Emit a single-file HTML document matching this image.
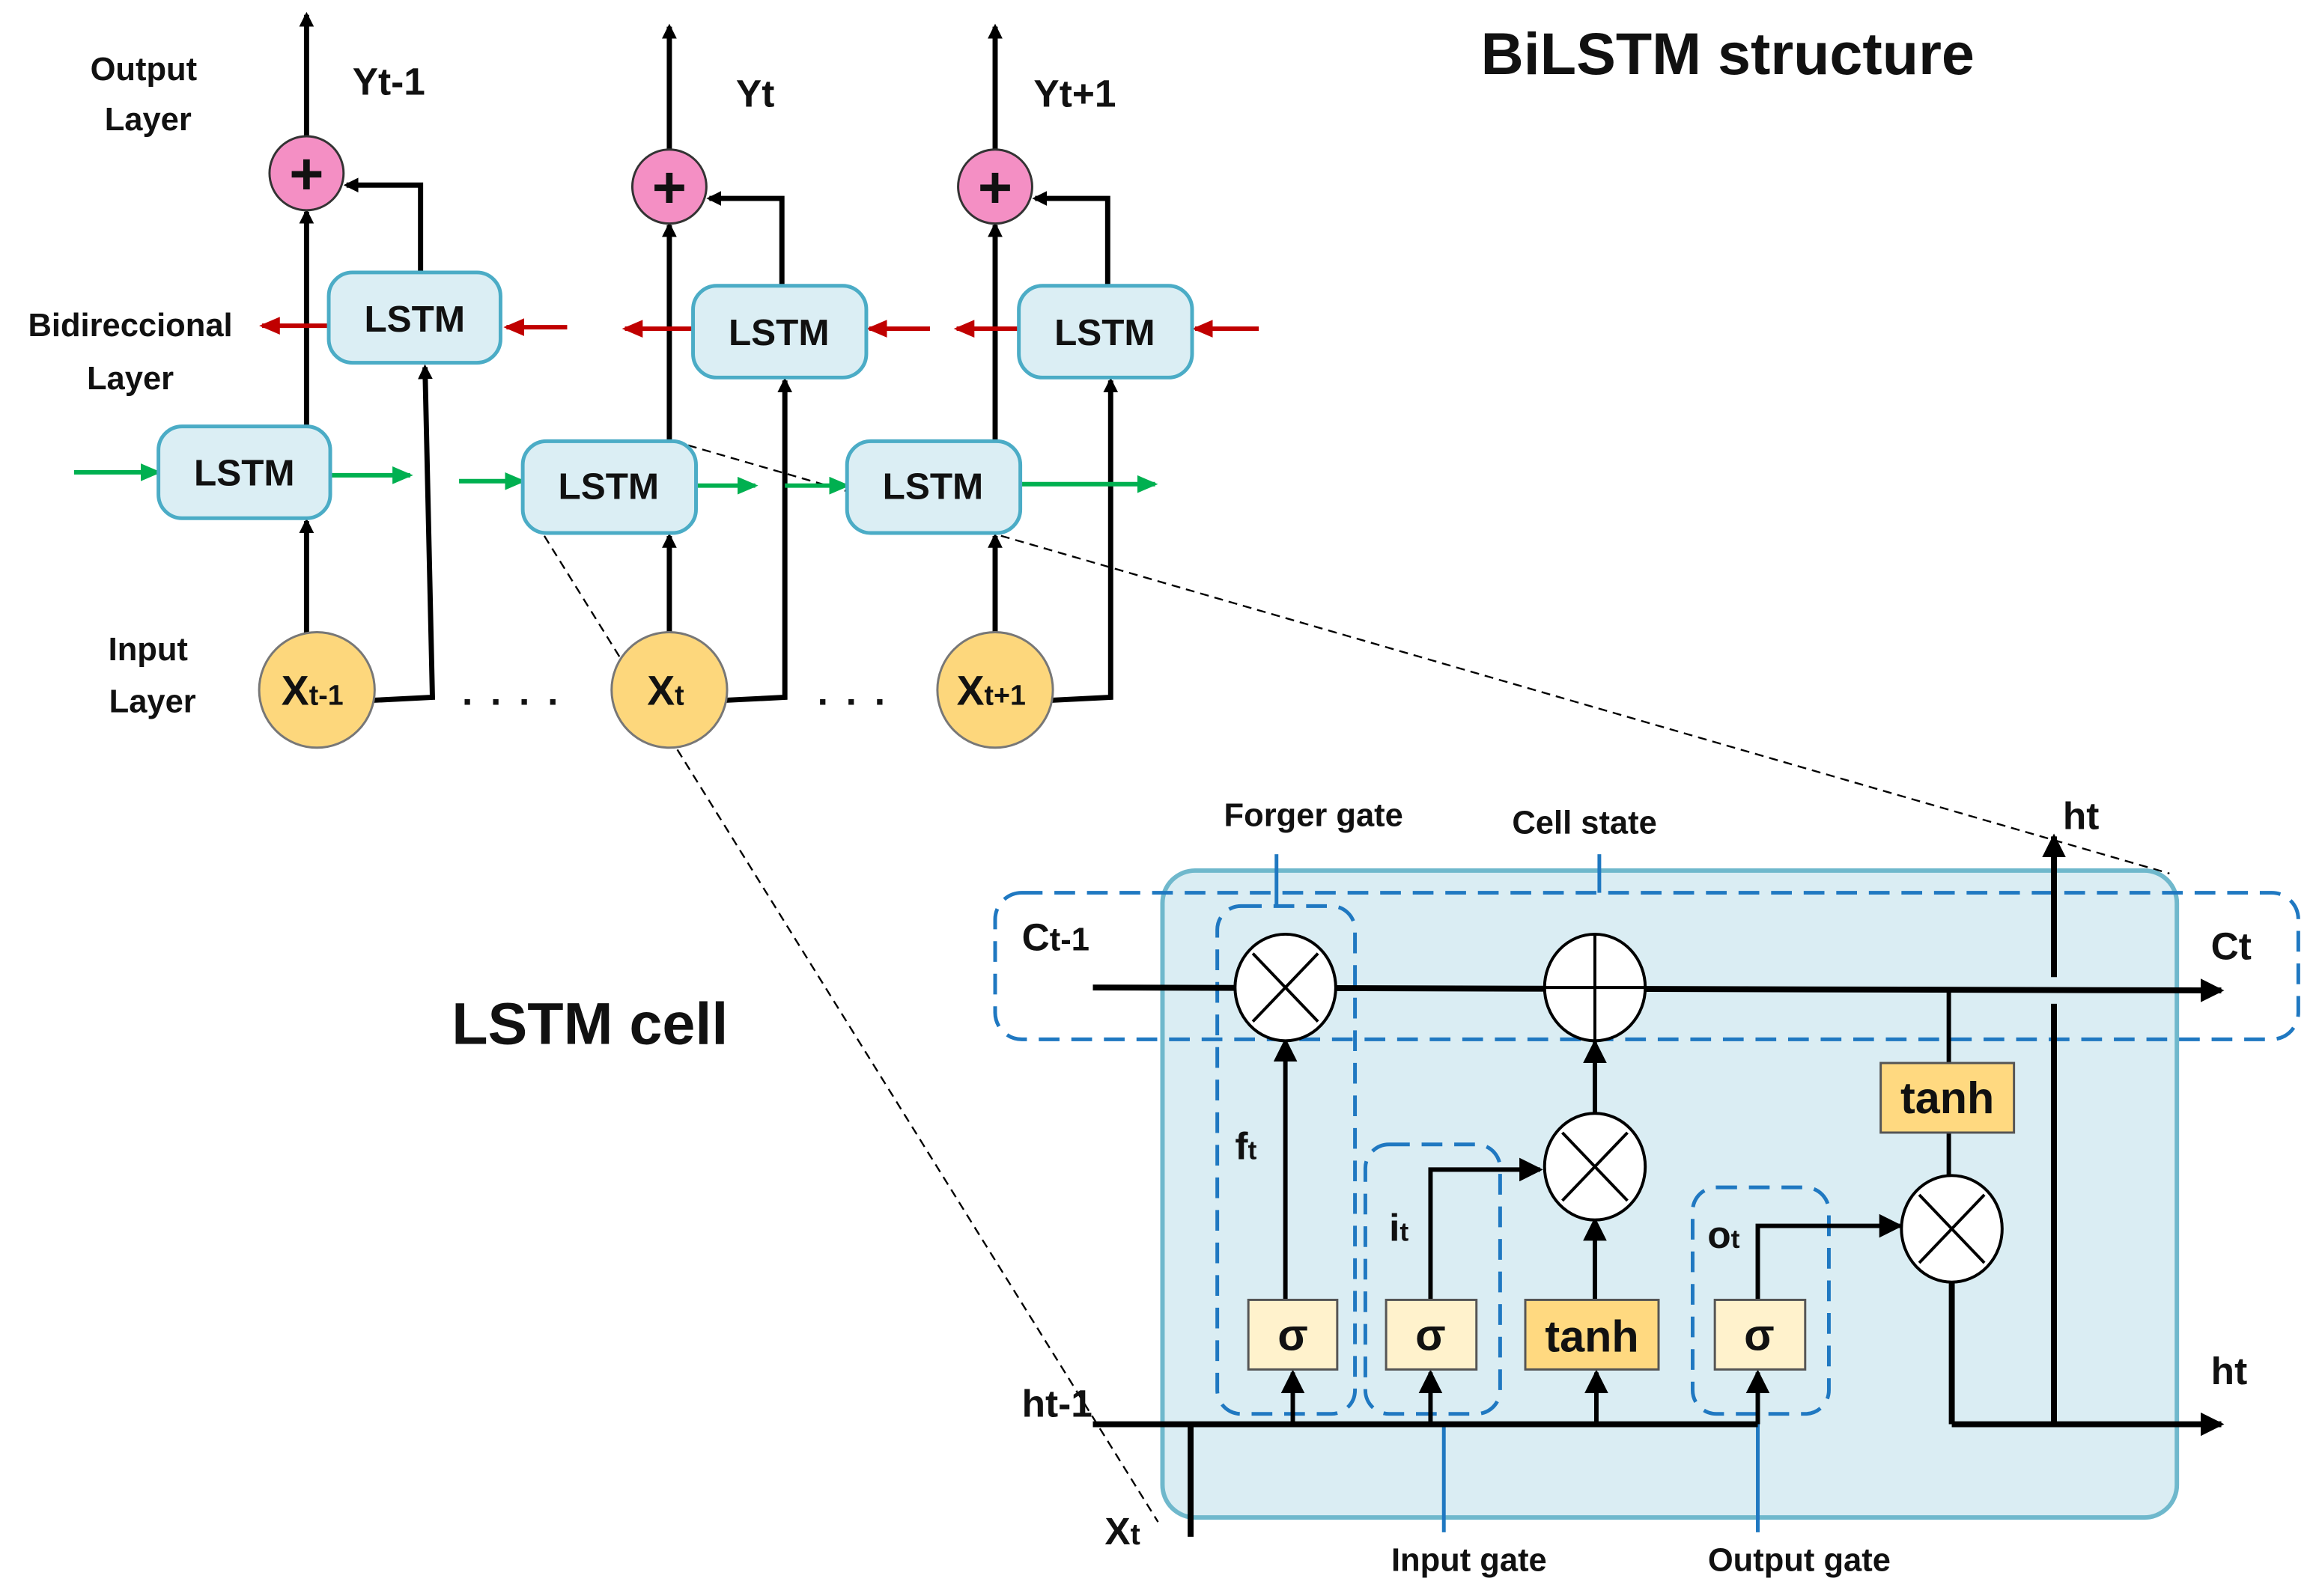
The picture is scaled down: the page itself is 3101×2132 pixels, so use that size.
<!DOCTYPE html>
<html><head><meta charset="utf-8"><style>
html,body{margin:0;padding:0;background:#fff;}
svg{display:block;}
text{font-family:"Liberation Sans",sans-serif;font-weight:bold;fill:#111;}
</style></head><body>
<svg width="3101" height="2132" viewBox="0 0 1568 1078" xmlns="http://www.w3.org/2000/svg">
<defs>
<marker id="ak" markerWidth="10" markerHeight="10" refX="8" refY="5" orient="auto" markerUnits="userSpaceOnUse"><path d="M0,0 L10,5 L0,10 z" fill="#000"/></marker>
<marker id="ab" markerWidth="16" markerHeight="16" refX="14" refY="8" orient="auto" markerUnits="userSpaceOnUse"><path d="M0,0 L16,8 L0,16 z" fill="#000"/></marker>
<marker id="ar" markerWidth="14" markerHeight="12" refX="12" refY="6" orient="auto" markerUnits="userSpaceOnUse"><path d="M0,0 L14,6 L0,12 z" fill="#c00000"/></marker>
<marker id="ag" markerWidth="14" markerHeight="12" refX="12" refY="6" orient="auto" markerUnits="userSpaceOnUse"><path d="M0,0 L14,6 L0,12 z" fill="#00b050"/></marker>
</defs>

<text x="1000" y="50" font-size="40">BiLSTM structure</text>
<text x="305" y="705" font-size="40">LSTM cell</text>

<g font-size="22" text-anchor="middle">
<text x="97" y="54">Output</text><text x="100" y="88">Layer</text>
<text x="88" y="227">Bidireccional</text><text x="88" y="263">Layer</text>
<text x="100" y="446">Input</text><text x="103" y="481">Layer</text>
</g>
<g font-size="26">
<text x="238" y="64">Yt-1</text>
<text x="497" y="72">Yt</text>
<text x="698" y="72">Yt+1</text>
</g>

<!-- dashed zoom lines -->
<line x1="357" y1="345" x2="782" y2="1028" stroke="#000" stroke-width="1.2" stroke-dasharray="6,4"/>
<line x1="455" y1="298" x2="1465" y2="590" stroke="#000" stroke-width="1.2" stroke-dasharray="6,4"/>

<g stroke="#000" stroke-width="3.5" fill="none">
<line x1="207" y1="428" x2="207" y2="352" marker-end="url(#ak)"/>
<line x1="207" y1="288" x2="207" y2="143" marker-end="url(#ak)"/>
<line x1="207" y1="92" x2="207" y2="10" marker-end="url(#ak)"/>
<polyline points="252,473 292,471 287,248" marker-end="url(#ak)"/>
<polyline points="284,184 284,125 234,125" marker-end="url(#ak)"/>
<line x1="452" y1="428" x2="452" y2="362" marker-end="url(#ak)"/>
<line x1="452" y1="298" x2="452" y2="152" marker-end="url(#ak)"/>
<line x1="452" y1="101" x2="452" y2="18" marker-end="url(#ak)"/>
<polyline points="490,473 530,471 530,257" marker-end="url(#ak)"/>
<polyline points="528,193 528,134 479,134" marker-end="url(#ak)"/>
<line x1="672" y1="428" x2="672" y2="362" marker-end="url(#ak)"/>
<line x1="672" y1="298" x2="672" y2="152" marker-end="url(#ak)"/>
<line x1="672" y1="101" x2="672" y2="18" marker-end="url(#ak)"/>
<polyline points="710,473 750,471 750,257" marker-end="url(#ak)"/>
<polyline points="748,193 748,134 699,134" marker-end="url(#ak)"/>
</g>

<g stroke="#c00000" stroke-width="3">
<line x1="383" y1="221" x2="342" y2="221" marker-end="url(#ar)"/>
<line x1="222" y1="220" x2="177" y2="220" marker-end="url(#ar)"/>
<line x1="628" y1="222" x2="587" y2="222" marker-end="url(#ar)"/>
<line x1="468" y1="222" x2="422" y2="222" marker-end="url(#ar)"/>
<line x1="850" y1="222" x2="807" y2="222" marker-end="url(#ar)"/>
<line x1="688" y1="222" x2="646" y2="222" marker-end="url(#ar)"/>
</g>
<g stroke="#00b050" stroke-width="3">
<line x1="50" y1="319" x2="107" y2="319" marker-end="url(#ag)"/>
<line x1="223" y1="321" x2="277" y2="321" marker-end="url(#ag)"/>
<line x1="310" y1="325" x2="353" y2="325" marker-end="url(#ag)"/>
<line x1="470" y1="328" x2="510" y2="328" marker-end="url(#ag)"/>
<line x1="530" y1="328" x2="572" y2="328" marker-end="url(#ag)"/>
<line x1="689" y1="327" x2="780" y2="327" marker-end="url(#ag)"/>
</g>

<g fill="#dbeef4" stroke="#4bacc6" stroke-width="2.5">
<rect x="222" y="184" width="116" height="61" rx="16"/>
<rect x="107" y="288" width="116" height="62" rx="16"/>
<rect x="468" y="193" width="117" height="62" rx="16"/>
<rect x="353" y="298" width="117" height="62" rx="16"/>
<rect x="688" y="193" width="117" height="62" rx="16"/>
<rect x="572" y="298" width="117" height="62" rx="16"/>
</g>
<g font-size="25" text-anchor="middle">
<text x="280" y="224">LSTM</text><text x="165" y="328">LSTM</text>
<text x="526" y="233">LSTM</text><text x="411" y="337">LSTM</text>
<text x="746" y="233">LSTM</text><text x="630" y="337">LSTM</text>
</g>

<g fill="#f48fc4" stroke="#333" stroke-width="1.5">
<circle cx="207" cy="117" r="25"/><circle cx="452" cy="126" r="25"/><circle cx="672" cy="126" r="25"/>
</g>
<g font-size="40" text-anchor="middle"><text x="207" y="131">+</text><text x="452" y="140">+</text><text x="672" y="140">+</text></g>

<g fill="#fdd77c" stroke="#777" stroke-width="1.5">
<circle cx="214" cy="466" r="39"/><circle cx="452" cy="466" r="39"/><circle cx="672" cy="466" r="39"/>
</g>
<text x="190" y="476" font-size="28">X<tspan font-size="19">t-1</tspan></text>
<text x="437" y="476" font-size="28">X<tspan font-size="19">t</tspan></text>
<text x="646" y="476" font-size="28">X<tspan font-size="19">t+1</tspan></text>
<text x="312" y="476" font-size="26" letter-spacing="12">....</text>
<text x="552" y="476" font-size="26" letter-spacing="12">...</text>

<rect x="785" y="588" width="685" height="437" rx="22" fill="#daedf3" stroke="#6fb8cc" stroke-width="3"/>
<g fill="none" stroke="#1f78c1" stroke-width="2.5" stroke-dasharray="14,8">
<rect x="672" y="603" width="880" height="99" rx="18"/>
<rect x="822" y="612" width="93" height="343" rx="16"/>
<rect x="922" y="773" width="91" height="182" rx="16"/>
<rect x="1143" y="802" width="92" height="153" rx="16"/>
</g>
<g stroke="#1f78c1" stroke-width="2.5">
<line x1="862" y1="577" x2="862" y2="612"/>
<line x1="1080" y1="577" x2="1080" y2="603"/>
<line x1="975" y1="962" x2="975" y2="1035"/>
<line x1="1187" y1="962" x2="1187" y2="1035"/>
</g>
<g font-size="22" text-anchor="middle">
<text x="887" y="558">Forger gate</text>
<text x="1070" y="563">Cell state</text>
<text x="992" y="1061">Input gate</text>
<text x="1215" y="1061">Output gate</text>
</g>

<g stroke="#000" stroke-width="4" fill="none">
<line x1="738" y1="667" x2="1500" y2="669" marker-end="url(#ab)"/>
<line x1="738" y1="962" x2="1187" y2="962"/>
<line x1="804" y1="962" x2="804" y2="1038"/>
<line x1="1318" y1="864" x2="1318" y2="962"/>
<line x1="1318" y1="962" x2="1500" y2="962" marker-end="url(#ab)"/>
<line x1="1387" y1="962" x2="1387" y2="678"/>
<line x1="1387" y1="660" x2="1387" y2="565" marker-end="url(#ab)"/>
</g>
<g stroke="#000" stroke-width="3" fill="none">
<line x1="873" y1="962" x2="873" y2="927" marker-end="url(#ab)"/>
<line x1="966" y1="962" x2="966" y2="927" marker-end="url(#ab)"/>
<line x1="1078" y1="962" x2="1078" y2="927" marker-end="url(#ab)"/>
<line x1="1187" y1="962" x2="1187" y2="927" marker-end="url(#ab)"/>
<line x1="868" y1="878" x2="868" y2="703" marker-end="url(#ab)"/>
<polyline points="966,878 966,790 1040,790" marker-end="url(#ab)"/>
<line x1="1077" y1="878" x2="1077" y2="824" marker-end="url(#ab)"/>
<line x1="1077" y1="752" x2="1077" y2="704" marker-end="url(#ab)"/>
<polyline points="1187,878 1187,828 1283,828" marker-end="url(#ab)"/>
<line x1="1316" y1="669" x2="1316" y2="718"/>
<line x1="1316" y1="765" x2="1316" y2="797"/>
</g>
<g fill="#fff" stroke="#000" stroke-width="2">
<ellipse cx="868" cy="667" rx="34" ry="36"/>
<ellipse cx="1077" cy="667" rx="34" ry="36"/>
<ellipse cx="1077" cy="788" rx="34" ry="36"/>
<ellipse cx="1318" cy="830" rx="34" ry="36"/>
</g>
<g stroke="#000" stroke-width="2">
<line x1="846" y1="644" x2="890" y2="690"/><line x1="890" y1="644" x2="846" y2="690"/>
<line x1="1043" y1="667" x2="1111" y2="667"/><line x1="1077" y1="631" x2="1077" y2="703"/>
<line x1="1055" y1="765" x2="1099" y2="811"/><line x1="1099" y1="765" x2="1055" y2="811"/>
<line x1="1296" y1="807" x2="1340" y2="853"/><line x1="1340" y1="807" x2="1296" y2="853"/>
</g>
<g stroke="#555" stroke-width="1.5">
<rect x="843" y="878" width="60" height="47" fill="#fff2cc"/>
<rect x="936" y="878" width="61" height="47" fill="#fff2cc"/>
<rect x="1158" y="878" width="61" height="47" fill="#fff2cc"/>
<rect x="1030" y="878" width="90" height="47" fill="#ffd980"/>
<rect x="1270" y="718" width="90" height="47" fill="#ffd980"/>
</g>
<g font-size="30" text-anchor="middle">
<text x="873" y="912">σ</text><text x="966" y="912">σ</text><text x="1188" y="912">σ</text>
<text x="1075" y="913">tanh</text><text x="1315" y="752">tanh</text>
</g>
<g font-size="26">
<text x="690" y="642">C<tspan font-size="22">t-1</tspan></text>
<text x="1493" y="648">Ct</text>
<text x="1393" y="560">ht</text>
<text x="1493" y="935">ht</text>
<text x="690" y="957">ht-1</text>
<text x="746" y="1043">X<tspan font-size="20">t</tspan></text>
<text x="834" y="783">f<tspan font-size="18">t</tspan></text>
<text x="938" y="838">i<tspan font-size="18">t</tspan></text>
<text x="1153" y="843">o<tspan font-size="18">t</tspan></text>
</g>
</svg>
</body></html>
